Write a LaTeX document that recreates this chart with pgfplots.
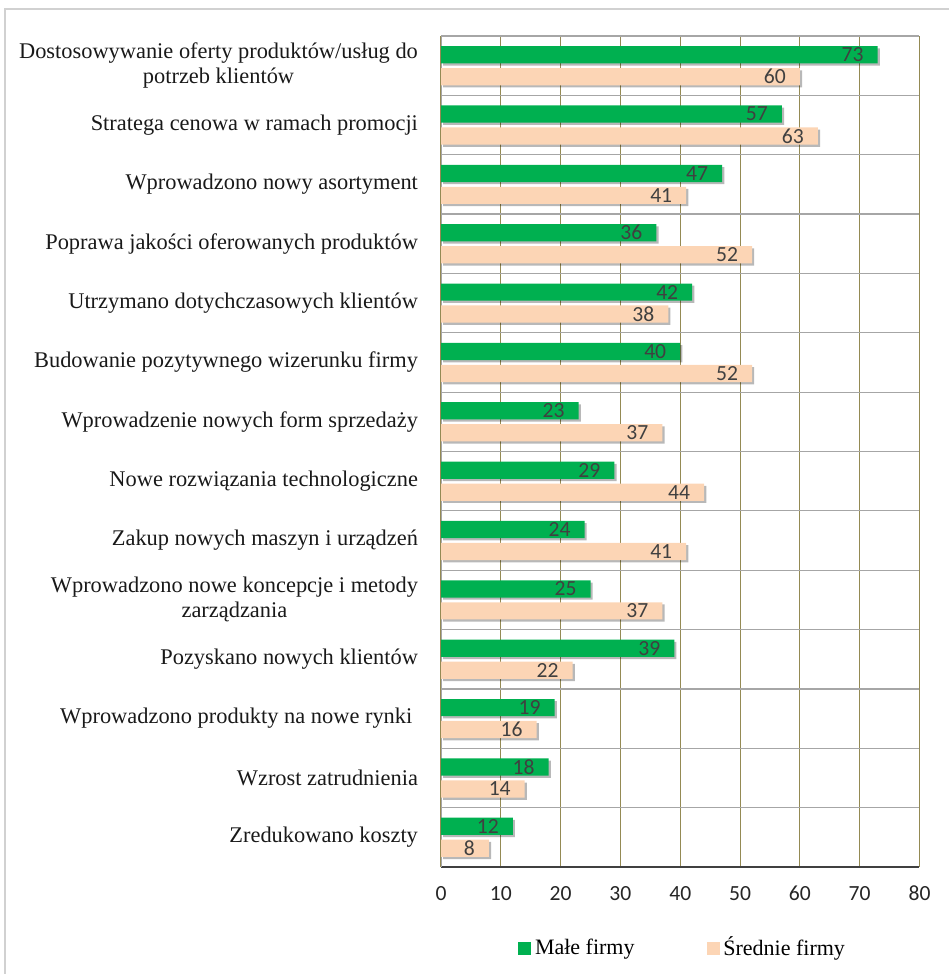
\documentclass[border=0pt]{standalone}
\usepackage{fontspec}
\setmainfont{Liberation Serif}
\newfontfamily\calibri{Carlito}
\usepackage{pgfplots}
\pgfplotsset{compat=1.18}
\usetikzlibrary{shadows}

\definecolor{mgreen}{HTML}{00B050}
\definecolor{mpeach}{HTML}{FCD5B5}
\definecolor{olivegrid}{HTML}{948A54}
\definecolor{sepgray}{HTML}{A6A6A6}
\definecolor{lblgray}{HTML}{404040}

\begin{document}
\begin{tikzpicture}
\useasboundingbox (0,0) rectangle (474.5pt,487pt);
\draw[black!18, line width=0.7pt] (2.5pt,0) -- (2.5pt,482.5pt) -- (474.5pt,482.5pt);
\begin{axis}[
  at={(220.5pt,53.5pt)}, anchor=south west,
  scale only axis, width=239.25pt, height=415.5pt,
  /pgf/number format/assume math mode=true,
  xbar, xmin=0, xmax=80, xtick={0,10,...,80},
  ymin=-0.5, ymax=13.5, y dir=reverse,
  ytick={0,...,13},
  yticklabels={
    {Dostosowywanie oferty produktów/usług do\\potrzeb klientów},
    {Stratega cenowa w ramach promocji},
    {Wprowadzono nowy asortyment},
    {Poprawa jakości oferowanych produktów},
    {Utrzymano dotychczasowych klientów},
    {Budowanie pozytywnego wizerunku firmy},
    {Wprowadzenie nowych form sprzedaży},
    {Nowe rozwiązania technologiczne},
    {Zakup nowych maszyn i urządzeń},
    {Wprowadzono nowe koncepcje i metody\\zarządzania},
    {Pozyskano nowych klientów},
    {Wprowadzono produkty na nowe rynki\ },
    {Wzrost zatrudnienia},
    {Zredukowano koszty}},
  minor ytick={-0.5,0.5,...,13.5},
  yminorgrids, xmajorgrids,
  major grid style={olivegrid, line width=0.55pt},
  minor grid style={sepgray, line width=0.6pt},
  axis x line*=bottom, axis y line*=left,
  x axis line style={black!75, line width=0.8pt},
  y axis line style={sepgray, line width=0.5pt},
  major tick length=0pt, minor tick length=0pt,
  tick style={draw=none},
  yticklabel style={font=\fontsize{11.2}{12.5}\selectfont, align=center, xshift=-8pt, text=black!90},
  xticklabel style={font=\calibri\fontsize{10.8}{12}\selectfont, text=black!85, yshift=-6pt},
  bar width=0.29,
  legend style={at={(0.507,-0.0975)}, anchor=center, draw=none, fill=none,
    font=\fontsize{11}{13}\selectfont, legend columns=2,
    /tikz/column 2/.style={column sep=34pt},
    /tikz/every column/.style={}},
  legend cell align=left,
  legend image code/.code={\fill[#1] (0pt,-3pt) rectangle (6pt,3pt);},
]
\addlegendimage{mgreen}
\addlegendentry{Małe firmy}
\addlegendimage{mpeach}
\addlegendentry{Średnie firmy}
\addplot[fill=mgreen, draw=none, bar shift=-0.185, forget plot,
  drop shadow={shadow xshift=1.1pt, shadow yshift=-1.1pt, opacity=0.28, fill=black},
  nodes near coords,
  every node near coord/.append style={anchor=east, xshift=-3.5pt, font=\calibri\fontsize{10.8}{12}\selectfont, text=lblgray}]
  coordinates {(73,0) (57,1) (47,2) (36,3) (42,4) (40,5) (23,6) (29,7) (24,8) (25,9) (39,10) (19,11) (18,12) (12,13)};
\addplot[fill=mpeach, draw=none, bar shift=0.185, forget plot,
  drop shadow={shadow xshift=1.1pt, shadow yshift=-1.1pt, opacity=0.28, fill=black},
  nodes near coords,
  every node near coord/.append style={anchor=east, xshift=-3.5pt, font=\calibri\fontsize{10.8}{12}\selectfont, text=lblgray}]
  coordinates {(60,0) (63,1) (41,2) (52,3) (38,4) (52,5) (37,6) (44,7) (41,8) (37,9) (22,10) (16,11) (14,12) (8,13)};
\end{axis}
\end{tikzpicture}
\end{document}
